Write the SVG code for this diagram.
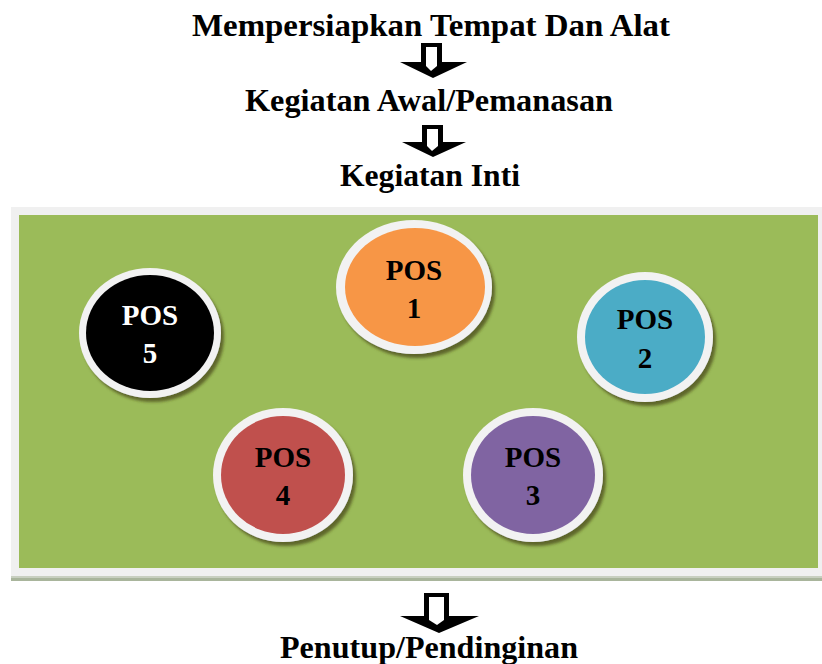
<svg xmlns="http://www.w3.org/2000/svg" width="822" height="664" viewBox="0 0 822 664">
<defs>
<style>
.t{font-family:"Liberation Serif","Times New Roman",serif;font-weight:bold;font-size:29px;fill:#000;text-anchor:middle}
.h{font-size:32px}
.w{fill:#fff}
.ring{fill:#f2f2f2}
.arrow{fill:#000}
.arrowin{fill:#fff}
</style>
<filter id="sh" x="-20%" y="-20%" width="150%" height="150%">
<feDropShadow dx="3" dy="4" stdDeviation="1.5" flood-color="#4a4a1e" flood-opacity="0.75"/>
</filter>
</defs>
<rect width="822" height="664" fill="#fff"/>
<g id="title1"><text class="t h" x="431" y="36" textLength="478" lengthAdjust="spacingAndGlyphs">Mempersiapkan Tempat Dan Alat</text></g>
<g id="title2"><text class="t h" x="429" y="111" textLength="368" lengthAdjust="spacingAndGlyphs">Kegiatan Awal/Pemanasan</text></g>
<g id="title3"><text class="t h" x="430" y="186" textLength="180" lengthAdjust="spacingAndGlyphs">Kegiatan Inti</text></g>
<g id="title4"><text class="t h" x="429" y="658" textLength="298" lengthAdjust="spacingAndGlyphs">Penutup/Pendinginan</text></g>
<g id="connectors">
<polygon class="arrow" points="421,43 442,43 442,62 467,62 433,78 400,62 421,62"/>
<polygon class="arrowin" points="426,47 437,47 437,66 431,71 426,66"/>
<polygon class="arrow" points="422,125 443,125 443,142 466,142 433,157 402,142 422,142"/>
<polygon class="arrowin" points="427,129 438,129 438,146 432,151 427,146"/>
<polygon class="arrow" points="424,593 449,593 449,616 479,616 439,633 400,616 424,616"/>
<polygon class="arrowin" points="429,597 444,597 444,620 437,625 429,620"/>
</g>
<g id="panel">
<rect x="11" y="207" width="811" height="369" fill="#f0f0f0"/>
<rect x="11" y="576" width="811" height="2" fill="#c8cfc0"/>
<rect x="11" y="578" width="811" height="3" fill="#a9b59c"/>
<rect x="19" y="215" width="799" height="353" fill="#9bbb59"/>
</g>
<g id="pos1">
<ellipse class="ring" cx="414" cy="287" rx="78" ry="67" filter="url(#sh)"/>
<ellipse cx="415" cy="287" rx="70" ry="59" fill="#f79646"/>
<text class="t" x="414" y="280">POS</text>
<text class="t" x="414" y="318">1</text>
</g>
<g id="pos2">
<ellipse class="ring" cx="645" cy="337" rx="68" ry="65" filter="url(#sh)"/>
<ellipse cx="645" cy="337" rx="60" ry="57" fill="#4bacc6"/>
<text class="t" x="645" y="329">POS</text>
<text class="t" x="645" y="368">2</text>
</g>
<g id="pos3">
<ellipse class="ring" cx="533" cy="475" rx="70" ry="67" filter="url(#sh)"/>
<ellipse cx="533" cy="475" rx="62" ry="59" fill="#8064a2"/>
<text class="t" x="533" y="467">POS</text>
<text class="t" x="533" y="505">3</text>
</g>
<g id="pos4">
<ellipse class="ring" cx="283" cy="475" rx="70" ry="67" filter="url(#sh)"/>
<ellipse cx="283" cy="475" rx="62" ry="59" fill="#c0504d"/>
<text class="t" x="283" y="467">POS</text>
<text class="t" x="283" y="505">4</text>
</g>
<g id="pos5">
<ellipse class="ring" cx="150" cy="333" rx="71" ry="65" filter="url(#sh)"/>
<ellipse cx="150" cy="333" rx="64" ry="58" fill="#000"/>
<text class="t w" x="150" y="325">POS</text>
<text class="t w" x="150" y="363">5</text>
</g>
</svg>
